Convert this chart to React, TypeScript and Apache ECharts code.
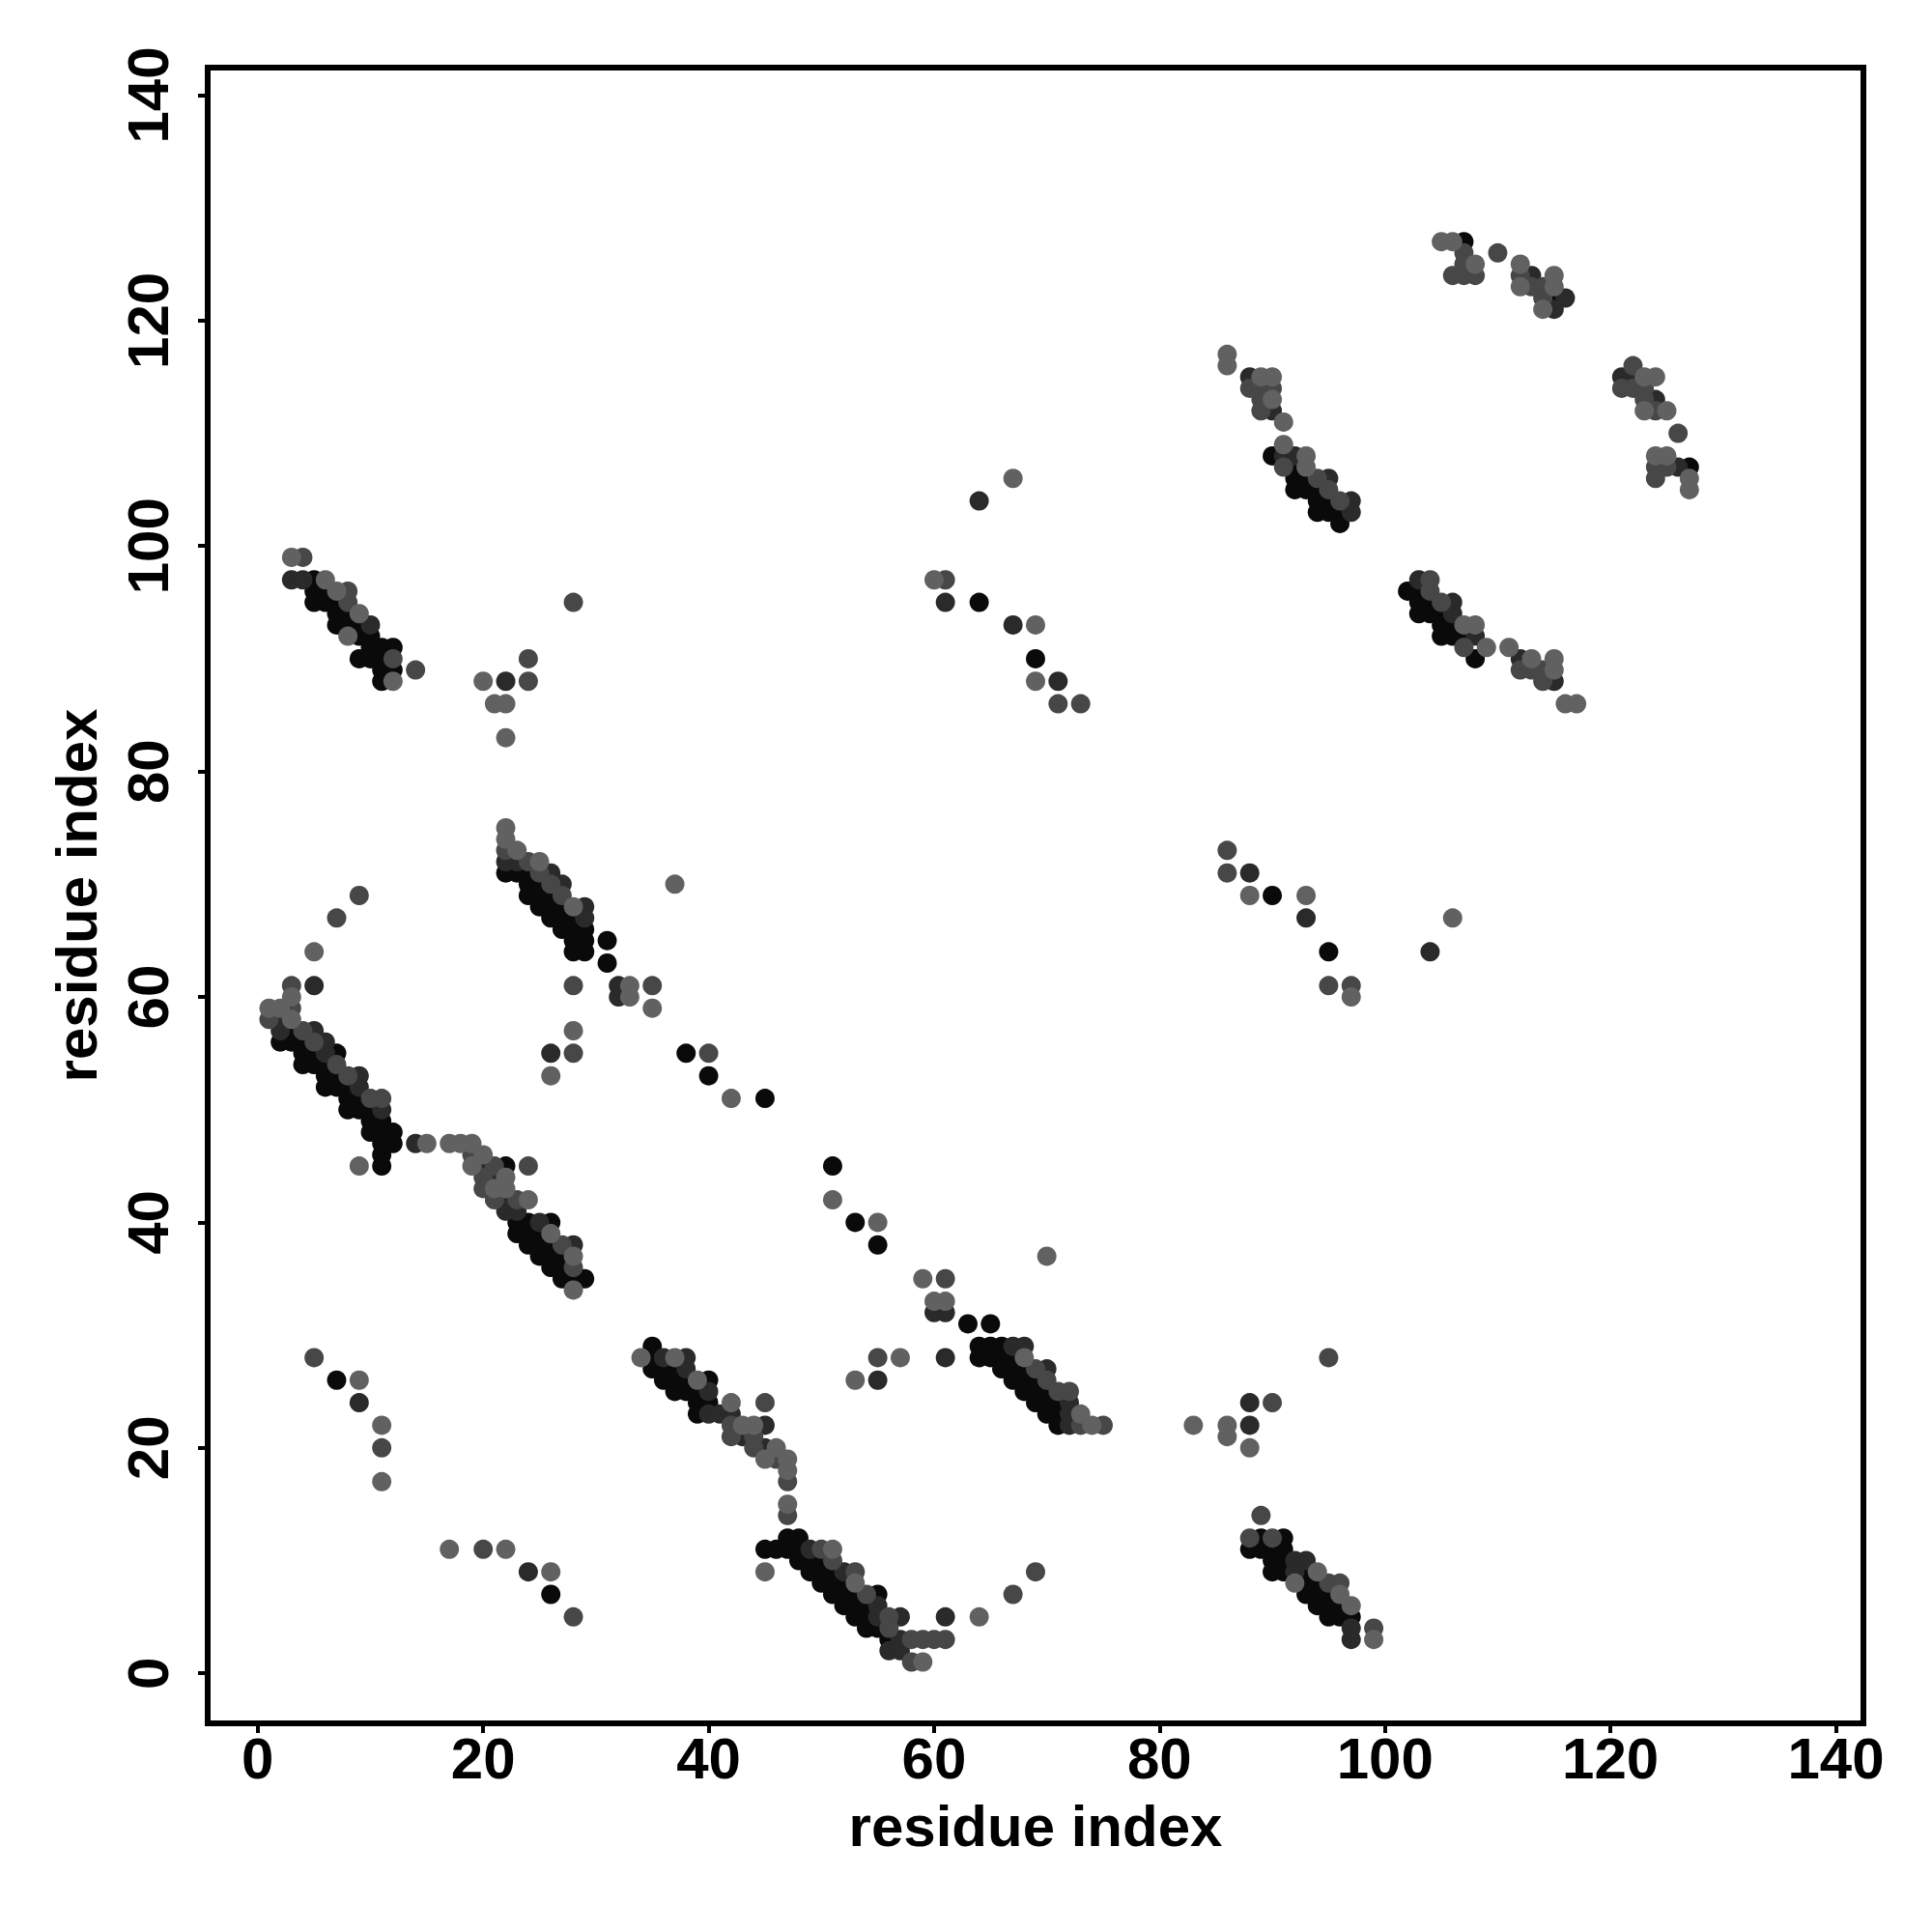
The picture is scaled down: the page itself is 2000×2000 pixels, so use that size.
import React, { useEffect, useRef } from "react";
import * as echarts from "echarts";

type P = [number, number];

const blackContacts: P[] = [
  [5,97],[5,96],[5,95],[6,96],[6,95],[7,95],[7,94],[7,93],[8,94],[8,93],[9,93],[9,92],[10,92],[10,91],[11,91],[12,91],[11,90],[9,90],[10,90],[11,89],[12,89],[11,88],
  [3,57],[2,56],[3,56],[4,56],[4,55],[5,55],[7,55],[4,54],[5,54],[6,54],[6,53],[7,53],[6,52],[7,52],[8,52],[8,51],[9,51],[8,50],[9,50],[10,50],[10,49],[11,49],[10,48],[11,48],[12,48],[11,47],[12,47],[11,46],[11,45],
  [22,45],[23,40],[24,40],[26,40],[23,39],[24,39],[25,39],[24,38],[25,38],[26,38],[25,37],[26,37],[27,37],[26,36],[27,36],[27,35],[28,35],[29,35],
  [22,71],[23,71],[24,71],[24,70],[25,70],[24,69],[25,69],[26,69],[25,68],[26,68],[27,68],[26,67],[27,67],[28,67],[27,66],[28,66],[29,66],[28,65],[29,65],[31,65],[28,64],[29,64],[31,63],
  [38,55],[40,53],[45,51],[7,26],[26,7],
  [35,29],[35,28],[35,27],[36,27],[37,27],[36,26],[37,26],[38,26],[40,26],[37,25],[38,25],[39,25],[39,24],[40,24],[39,23],
  [47,12],[48,12],[45,11],[46,11],[47,11],[48,11],[48,10],[49,10],[50,10],[49,9],[50,9],[51,9],[50,8],[51,8],[52,8],[51,7],[52,7],[53,7],[55,7],[52,6],[53,6],[54,6],[53,5],[54,5],[54,4],[55,4],[56,3],
  [51,45],[53,40],[55,38],[63,31],[65,31],[64,29],[65,29],[66,29],[64,28],[65,28],[66,28],[67,28],[66,27],[67,27],[68,27],[67,26],[68,26],[69,26],[68,25],[69,25],[70,25],[69,24],[70,24],[71,24],[70,23],[71,23],[71,22],
  [89,12],[91,12],[88,11],[89,11],[90,11],[91,11],[90,10],[91,10],[90,9],[91,9],[93,9],[93,8],[94,8],[93,7],[94,7],[95,7],[94,6],[95,6],[96,6],[95,5],[96,5],[97,5],
  [90,69],[95,64],[64,95],[69,90],
  [90,108],[92,107],[92,106],[93,106],[92,105],[93,105],[94,105],[94,104],[95,104],[94,103],[95,103],[96,103],[96,102],
  [102,96],[103,96],[103,95],[104,95],[103,94],[104,94],[105,94],[105,93],[106,93],[105,92],[106,92],[107,92],[108,90],
  [107,127],[115,122],[127,107],
];

const darkContacts: P[] = [
  [3,97],[4,97],[10,93],[22,88],
  [5,61],[2,58],[2,57],[5,57],[6,56],[6,55],[9,53],[9,52],[11,50],[14,47],
  [20,45],[21,44],[22,42],[22,41],[23,41],[25,40],[28,38],
  [22,72],[23,72],[26,71],[27,70],[29,68],[29,67],[26,55],
  [32,61],[32,60],[9,24],[24,9],
  [36,28],[38,28],[38,27],[40,25],[40,23],[41,23],[42,23],[45,22],[43,21],[45,20],
  [49,11],[52,9],[55,6],[55,5],[57,5],[57,3],[56,2],[57,2],[61,5],
  [60,32],[61,32],[67,29],[68,29],[70,27],[72,24],[72,23],[72,22],[61,28],[55,26],
  [88,24],[88,22],[92,10],[93,10],[92,9],[97,4],[97,3],
  [88,71],[93,67],[104,64],[64,104],[61,95],[67,93],[71,88],
  [88,115],[90,112],[91,108],[92,108],[95,106],[97,104],[97,103],
  [103,97],[106,95],[106,94],[108,92],[112,90],[115,88],
  [113,124],[116,122],[115,121],[121,115],[122,115],[124,113],[126,107],
];

const mediumContacts: P[] = [
  [4,99],[8,96],[8,95],[12,90],[14,89],[28,95],[24,90],[24,88],
  [9,69],[7,67],[3,61],[3,59],[1,58],[4,57],[5,56],[7,54],[8,53],[10,51],[11,51],
  [19,46],[21,45],[24,45],[20,44],[20,43],[21,42],[23,42],[27,38],[28,36],
  [22,73],[24,72],[25,71],[26,70],[27,69],[28,61],[28,55],
  [35,61],[40,55],[5,28],[11,20],[20,11],[28,5],
  [45,24],[42,22],[42,21],[44,21],[44,20],[46,19],[47,17],[47,14],
  [50,11],[51,10],[53,9],[54,7],[56,5],[56,4],[58,3],[59,3],[60,3],[61,3],[58,1],[67,7],[69,9],
  [61,35],[69,27],[70,26],[71,25],[72,25],[73,22],[75,22],[55,28],
  [95,28],[90,24],[89,14],[88,12],[90,12],[95,8],[96,8],[99,4],
  [86,73],[86,71],[95,61],[97,61],[61,97],[71,86],[73,86],
  [88,114],[89,114],[90,114],[89,113],[89,112],[91,107],[94,106],[95,105],[96,104],
  [104,97],[104,96],[105,95],[107,91],[112,89],[113,89],[114,89],[114,88],
  [107,126],[110,126],[107,125],[106,124],[107,124],[108,124],[112,124],[113,123],[114,123],[114,122],
  [122,116],[121,114],[122,114],[123,114],[123,113],[124,112],[126,110],[124,107],[125,107],[124,106],
];

const lightContacts: P[] = [
  [3,99],[6,97],[7,96],[9,94],[8,92],[12,88],[20,88],[21,86],[22,86],[22,83],
  [5,64],[3,60],[1,59],[2,59],[3,58],[9,45],[15,47],
  [17,47],[18,47],[19,47],[20,46],[19,45],[22,44],[21,43],[22,43],[24,42],[26,39],[28,37],[28,34],
  [22,75],[22,74],[23,73],[25,72],[28,68],[28,57],[26,53],
  [37,70],[33,61],[33,60],[35,59],[42,51],
  [9,26],[11,22],[11,17],[17,11],[22,11],[26,9],
  [34,28],[37,28],[39,26],[42,24],[43,22],[44,22],[46,20],[45,19],[47,19],[47,18],[47,15],
  [51,11],[45,9],[53,8],[59,1],[64,5],
  [51,42],[55,40],[70,37],[59,35],[60,33],[61,33],[68,28],[73,23],[74,22],[57,28],[53,26],
  [83,22],[86,22],[86,21],[88,20],[94,9],[92,8],[96,7],[97,6],[99,3],
  [88,69],[93,69],[97,60],[106,67],[67,106],[60,97],[69,93],[69,88],
  [86,117],[86,116],[89,115],[90,115],[90,113],[91,111],[91,109],[93,108],[93,107],
  [107,93],[108,93],[109,91],[111,91],[113,90],[115,90],[115,89],[116,86],[117,86],
  [105,127],[106,127],[108,125],[112,125],[115,124],[112,123],[115,123],[114,121],
  [123,115],[124,115],[123,112],[125,112],[124,108],[125,108],[127,106],[127,105],
];

const tickValues = [0, 20, 40, 60, 80, 100, 120, 140];
const axisMin = -4.44;
const axisMax = 142.44;
const axisTitle = "residue index";

const FONT = "'Liberation Sans', Arial, Helvetica, sans-serif";

export default function App() {
  const ref = useRef<HTMLDivElement>(null);
  useEffect(() => {
    if (!ref.current) return;
    const chart = echarts.init(ref.current, null, { renderer: "svg" });
    const textStyle = { fontSize: 60, fontWeight: "bold", fontFamily: FONT, color: "#000" };
    const baseAxis = {
      type: "value",
      min: axisMin,
      max: axisMax,
      splitLine: { show: false },
      axisLine: { show: true, onZero: false, lineStyle: { color: "#000", width: 6 } },
      axisTick: { show: true, inside: false, length: 10, customValues: tickValues, lineStyle: { color: "#000", width: 4 } },
      name: axisTitle,
      nameLocation: "middle",
      nameTextStyle: textStyle,
    };
    const mkSeries = (name: string, data: P[], color: string) => ({
      name,
      type: "scatter",
      data,
      symbol: "circle",
      symbolSize: 20,
      itemStyle: { color, opacity: 1 },
      emphasis: { disabled: true },
    });
    chart.setOption({
      animation: false,
      backgroundColor: "#fff",
      grid: { left: 215, top: 70, right: 71, bottom: 216, show: true, borderColor: "#000", borderWidth: 6, backgroundColor: "transparent" },
      xAxis: {
        ...baseAxis,
        position: "bottom",
        nameGap: 76,
        axisLabel: { ...textStyle, customValues: tickValues, margin: 6 },
      },
      yAxis: {
        ...baseAxis,
        position: "left",
        nameGap: 106,
        axisLabel: { ...textStyle, customValues: tickValues, margin: 32, rotate: 90 },
      },
      series: [
        mkSeries("black", blackContacts, "#0a0a0a"),
        mkSeries("dark", darkContacts, "#2a2a2a"),
        mkSeries("medium", mediumContacts, "#474747"),
        mkSeries("light", lightContacts, "#616161"),
      ],
    });
    return () => chart.dispose();
  }, []);
  return (
    <div
      ref={ref}
      style={{ position: "absolute", left: 0, top: 0, width: 2000, height: 2000, background: "#fff" }}
    />
  );
}
